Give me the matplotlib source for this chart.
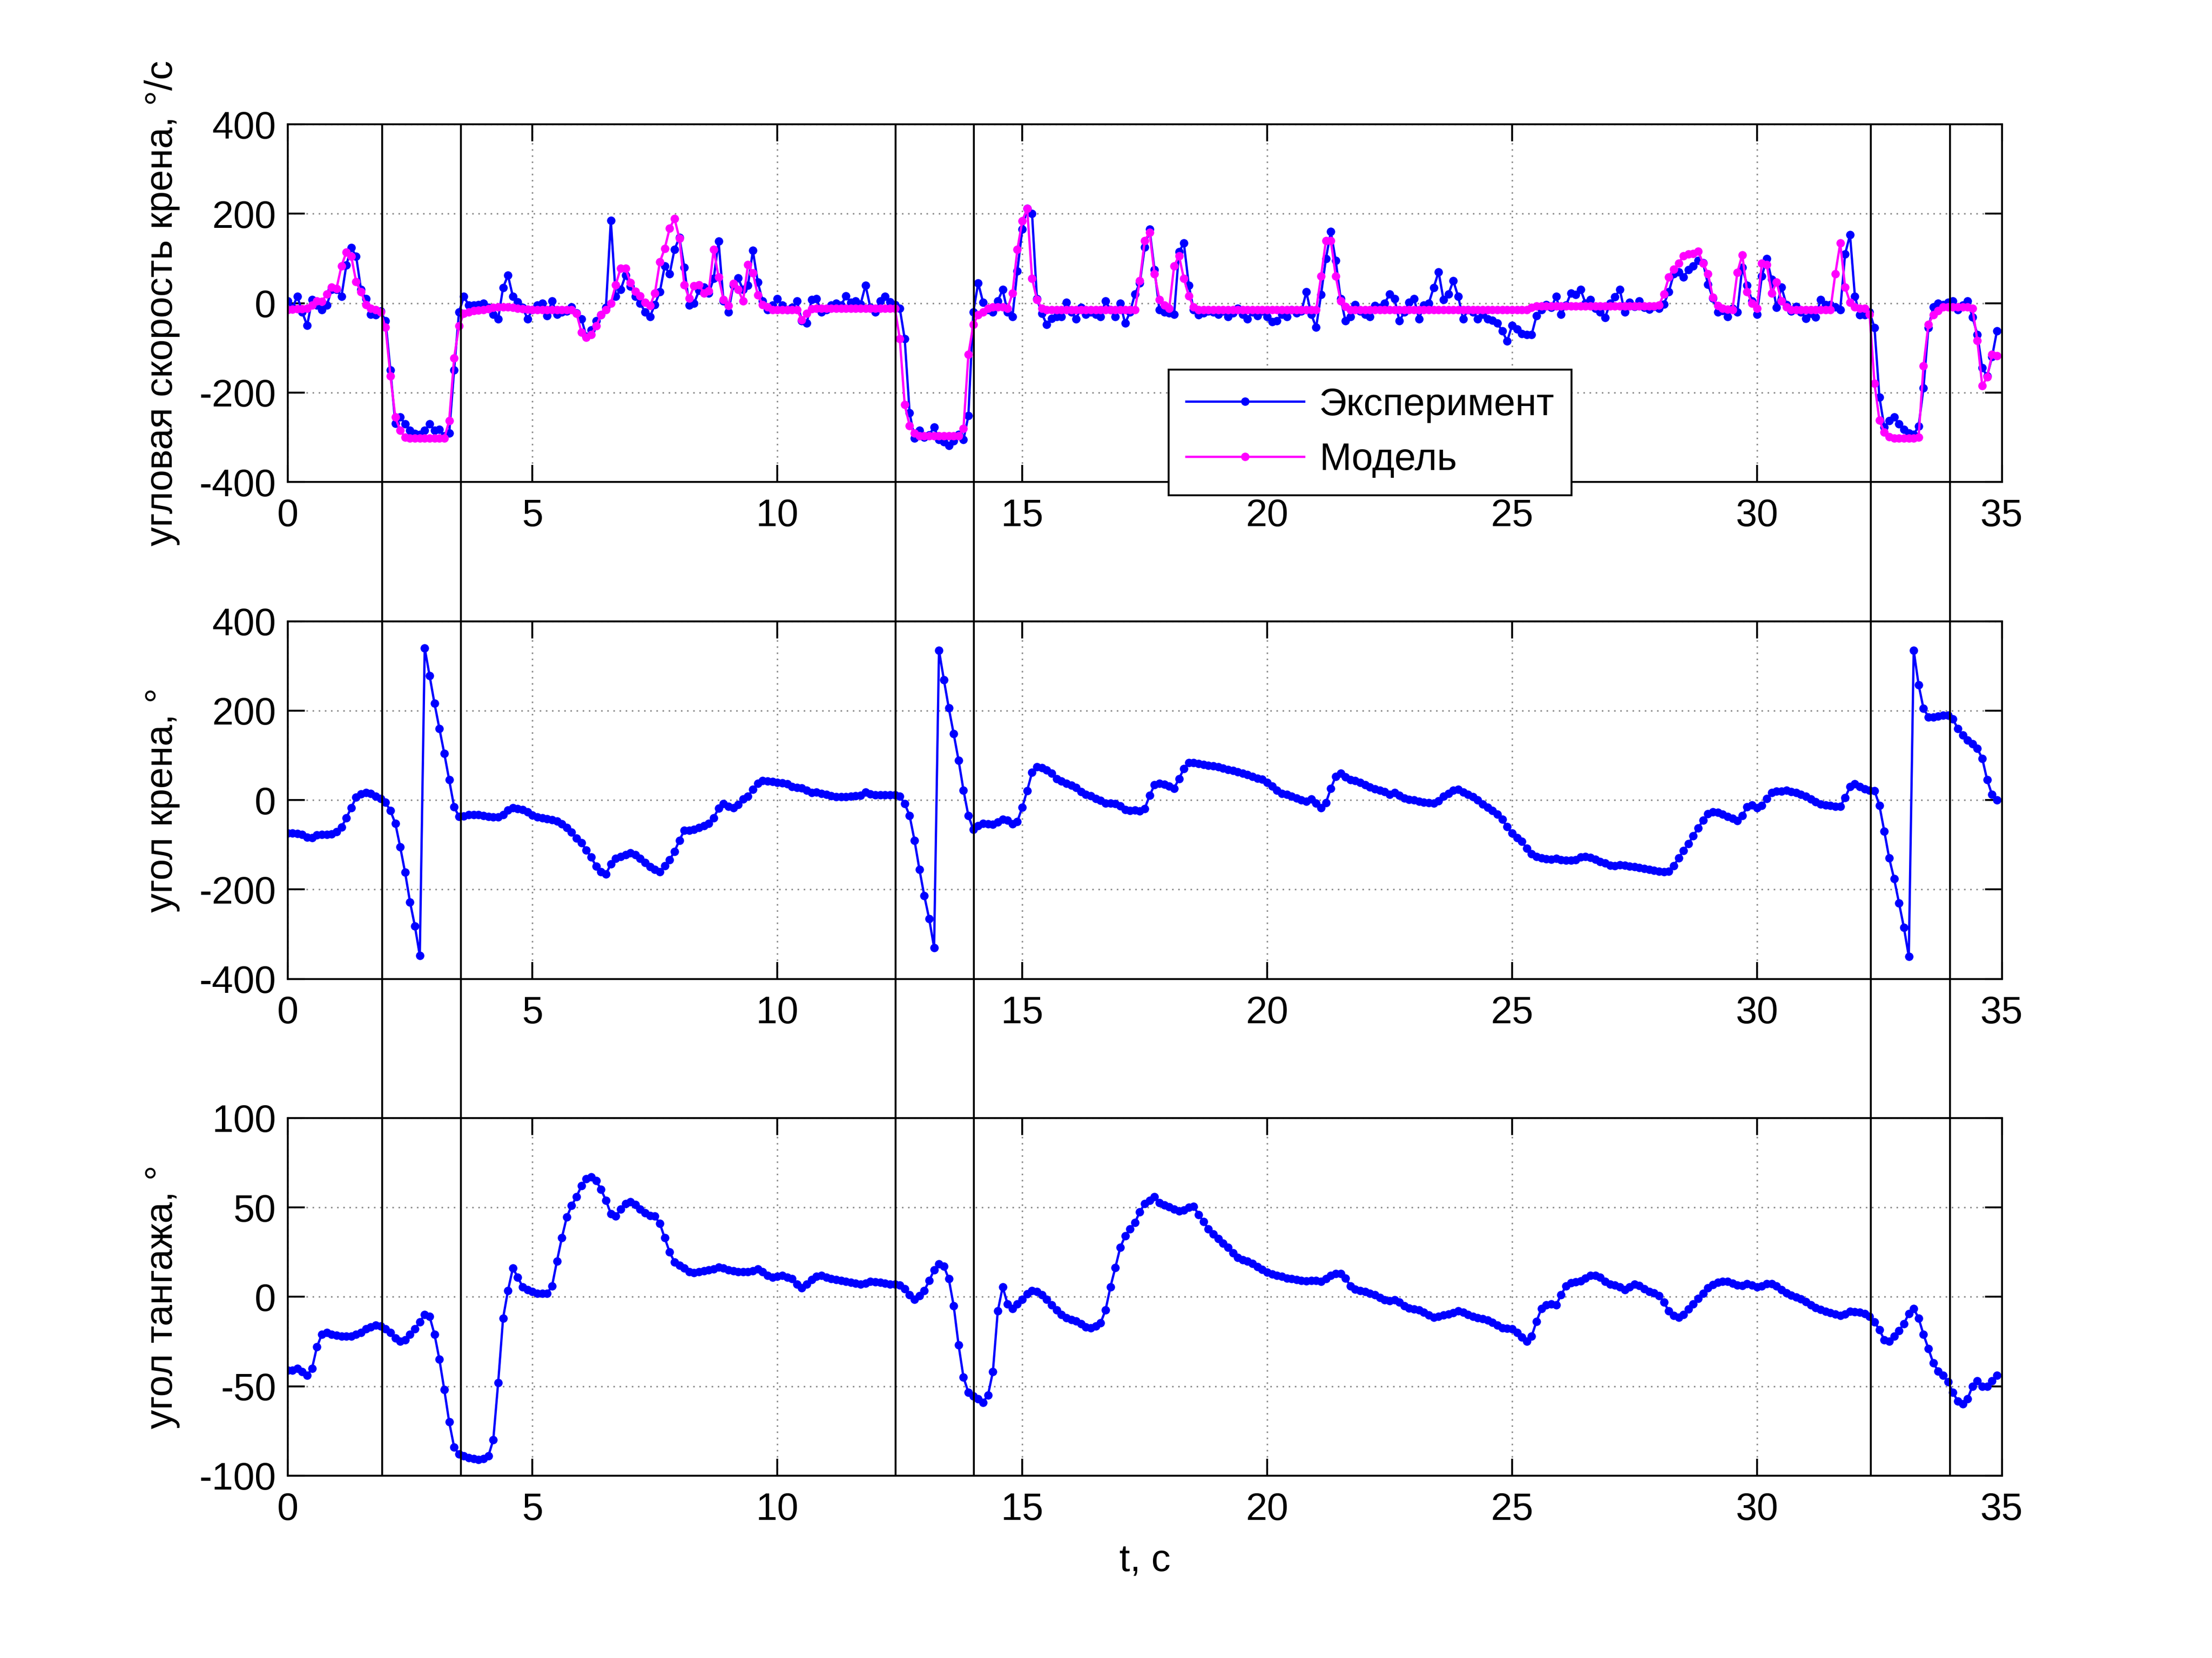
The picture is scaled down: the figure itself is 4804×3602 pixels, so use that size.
import numpy as np
import matplotlib
matplotlib.use('Agg')
import matplotlib.pyplot as plt

plt.rcParams['font.family'] = ['Liberation Sans', 'DejaVu Sans']
plt.rcParams['font.size'] = 10
plt.rcParams['axes.unicode_minus'] = False

####### DATA #######
dt = 0.1  # s, one row = 1 s

# roll rate, experiment, deg/s
p_exp = [
    5, -10, 15, -20, -50, 8, -5, -15, -5, 30,
    30, 15, 85, 124, 105, 30, 10, -25, -26, -18,
    -40, -150, -269, -255, -270, -285, -292, -294, -285, -270,
    -285, -283, -297, -291, -150, -20, 15, -5, -5, -3,
    0, -10, -25, -35, 35, 62, 15, 3, -10, -35,
    -15, -5, 0, -28, 5, -25, -20, -18, -9, -22,
    -35, -75, -60, -40, -26, -10, 185, 15, 30, 62,
    38, 15, 0, -20, -30, -3, 25, 83, 65, 120,
    147, 80, -5, 0, 28, 36, 22, 55, 139, 5,
    -20, 40, 56, 30, 40, 118, 47, 5, -15, -5,
    10, -5, -15, -10, 5, -40, -45, 8, 10, -20,
    -15, -5, 0, -5, 16, 2, 5, -2, 40, -10,
    -20, 5, 15, 3, -3, -12, -80, -245, -302, -285,
    -300, -295, -277, -305, -310, -319, -308, -294, -305, -252,
    -20, 45, 2, -15, -20, 5, 30, -20, -30, 72,
    165, 212, 200, 10, -23, -48, -34, -30, -30, 2,
    -20, -35, -10, -25, -20, -25, -30, 5, -15, -30,
    0, -45, -20, 20, 45, 125, 165, 75, -15, -20,
    -22, -25, 115, 134, 40, -15, -26, -22, -18, -20,
    -25, -18, -30, -22, -12, -25, -35, -20, -28, -18,
    -30, -42, -40, -25, -30, -15, -22, -18, 25, -25,
    -54, 19, 100, 160, 95, 10, -40, -30, -3, -18,
    -25, -30, -6, -10, 0, 20, 10, -40, -20, 2,
    10, -35, -5, 0, 35, 70, 8, 20, 50, 15,
    -35, -15, -20, -35, -25, -35, -38, -45, -62, -85,
    -50, -58, -68, -70, -70, -28, -15, -3, -10, 15,
    -25, -5, 22, 19, 30, 0, 8, -12, -20, -32,
    0, 14, 30, -20, 2, -8, 5, -10, -14, -8,
    -12, -2, 25, 65, 70, 58, 75, 83, 95, 90,
    42, 11, -20, -17, -30, -12, -20, 80, 40, 5,
    -25, 60, 100, 53, -10, 36, -3, -18, -8, -20,
    -34, -23, -31, 8, -3, -3, -9, -15, 110, 153,
    15, -26, -26, -20, -55, -210, -277, -263, -255, -270,
    -283, -291, -294, -275, -190, -55, -9, 0, -3, 2,
    5, -15, -5, 5, -31, -70, -145, -163, -120, -62,
]

# roll rate, model, deg/s
p_mod = [
    -15, -14, -13, -13, -12, -5, 5, 4, 20, 36,
    33, 83, 114, 105, 48, 25, -3, -12, -15, -20,
    -54, -163, -255, -285, -300, -302, -302, -302, -302, -302,
    -302, -302, -302, -263, -123, -51, -23, -20, -17, -16,
    -15, -13, -10, -9, -9, -9, -10, -12, -13, -14,
    -15, -15, -15, -15, -15, -15, -15, -15, -15, -23,
    -65, -77, -70, -51, -26, -15, 0, 41, 78, 78,
    46, 26, 16, 2, -6, 22, 92, 122, 167, 189,
    145, 41, 11, 39, 41, 22, 27, 120, 58, 8,
    -6, 44, 30, 5, 86, 68, 18, -3, -9, -15,
    -15, -15, -15, -15, -15, -37, -23, -13, -12, -12,
    -12, -12, -12, -12, -12, -12, -12, -12, -12, -12,
    -12, -12, -12, -12, -12, -80, -227, -274, -291, -297,
    -297, -297, -297, -297, -297, -297, -297, -297, -280, -115,
    -48, -26, -20, -12, -9, -9, -9, -12, 22, 120,
    184, 212, 55, 8, -12, -15, -15, -15, -15, -15,
    -15, -15, -15, -15, -15, -15, -15, -15, -15, -15,
    -15, -15, -15, -15, 50, 140, 158, 65, 8, -4,
    -12, 83, 106, 55, 16, -9, -15, -15, -15, -15,
    -15, -15, -15, -15, -15, -15, -15, -15, -15, -15,
    -15, -15, -15, -15, -15, -15, -15, -15, -15, -15,
    -15, 60, 140, 140, 60, 5, -8, -15, -15, -15,
    -15, -15, -15, -15, -15, -15, -15, -15, -15, -15,
    -15, -15, -15, -15, -15, -15, -15, -15, -15, -15,
    -15, -15, -15, -15, -15, -15, -15, -15, -15, -15,
    -15, -15, -15, -15, -10, -7, -7, -7, -7, -7,
    -7, -7, -7, -7, -7, -7, -7, -7, -7, -7,
    -7, -7, -7, -7, -7, -7, -7, -7, -7, -7,
    -4, 20, 58, 76, 89, 106, 110, 111, 116, 89,
    66, 13, -6, -12, -14, -15, 69, 108, 25, 0,
    -12, 89, 86, 22, 47, 5, -9, -15, -15, -15,
    -15, -15, -15, -15, -15, -15, 66, 134, 36, 2,
    -9, -12, -12, -25, -180, -262, -289, -299, -302, -302,
    -302, -302, -302, -300, -140, -48, -26, -17, -9, -9,
    -9, -9, -9, -9, -12, -84, -185, -165, -115, -118,
]

# roll angle, deg
phi = [
    -74, -74, -75, -77, -83, -84, -78, -77, -77, -76,
    -71, -61, -40, -17, 6, 14, 16.5, 15, 8, 3,
    -5, -24, -52, -105, -162, -228, -282, -348, 340, 278,
    216, 160, 104, 45, -15, -37, -36, -33, -33, -33,
    -35, -37, -38, -38, -33, -22, -17, -19, -21, -27,
    -34, -38, -40, -42, -44, -47, -53, -62, -72, -85,
    -96, -112, -128, -148, -160, -166, -143, -131, -127, -122,
    -118, -122, -131, -140, -149, -155, -160, -147, -134, -115,
    -90, -68, -68, -66, -62, -57, -52, -40, -18, -8,
    -14, -17, -10, 2, 8, 24, 37, 43, 42, 41,
    39, 38, 36, 30, 28, 27, 22, 17, 18, 15,
    12, 9, 7, 7, 7, 8, 9, 10, 18, 14,
    11, 11, 11, 11, 11, 8, -8, -35, -90, -155,
    -214, -266, -330, 335, 269, 206, 148, 89, 22, -35,
    -66, -57, -52, -53, -54, -49, -43, -45, -53, -48,
    -16, 21, 62, 74, 72, 67, 60, 48, 42, 37,
    33, 28, 19, 12, 9, 3, -1, -7, -7, -8,
    -13, -21, -24, -22, -25, -19, 10, 34, 37, 35,
    31, 26, 48, 70, 84, 84, 81, 79, 77, 76,
    74, 71, 68, 66, 63, 60, 57, 53, 49, 46,
    39, 31, 22, 15, 12, 8, 4, 0, -3, 2,
    -7, -17, -6, 26, 53, 60, 52, 45, 43, 39,
    34, 29, 25, 22, 19, 13, 17, 10, 4, 1,
    0, -3, -5, -6, -7, -2, 8, 15, 22, 24,
    18, 13, 7, 0, -9, -16, -24, -32, -43, -60,
    -74, -84, -93, -108, -120, -127, -130, -132, -133, -131,
    -134, -135, -135, -134, -128, -126, -129, -133, -138, -141,
    -146, -147, -145, -146, -148, -149, -151, -153, -155, -157,
    -159, -160, -159, -147, -130, -113, -98, -80, -63, -45,
    -31, -27, -28, -32, -37, -41, -46, -35, -15, -11,
    -17, -12, 3, 17, 20, 20, 22, 19, 17, 13,
    8, 2, -4, -9, -11, -12, -14, -14, 5, 30,
    36, 30, 25, 22, 21, -12, -70, -130, -176, -230,
    -285, -350, 335, 258, 205, 186, 186, 188, 190, 190,
    181, 160, 145, 134, 126, 115, 93, 45, 12, 0,
]

# pitch angle, deg
theta = [
    -41, -41, -40, -42, -44, -40, -28, -21, -20, -21,
    -21.5, -22, -22, -22, -21, -20, -18, -17, -16, -16.5,
    -18, -20, -23, -25, -24, -21, -18, -14, -10, -11,
    -21, -35, -52, -70, -84, -88, -89, -90, -90.5, -91,
    -90.5, -89, -80, -48, -12, 3.5, 16, 11, 5.5, 4,
    3, 2, 2, 2, 6, 20, 33, 44.5, 51, 56,
    62, 66, 67, 65, 60, 54, 46.5, 45, 49, 52,
    53, 51.5, 49, 47, 45.5, 45, 41, 33, 25, 19.5,
    17.5, 16, 14, 13.5, 14, 14.5, 15, 15.5, 16.5, 16,
    15, 14.5, 14, 14, 14, 14.5, 15.5, 14, 12, 11,
    11.5, 12, 11, 10, 7, 5, 7, 9.5, 11.5, 12,
    11, 10, 9.5, 9, 8.5, 8, 7.5, 7, 7.5, 8.5,
    8.4, 8, 7.5, 7, 7, 6.5, 4.5, 1, -1.4, 0.5,
    3.5, 9, 15, 18.4, 17, 10, -5, -27, -45, -53.5,
    -55.6, -57, -59, -55, -42, -8, 5.5, -4, -6.7, -4,
    -1.5, 1.5, 3.3, 3, 1, -1.5, -4.6, -7.5, -10, -11.8,
    -12.7, -13.6, -15, -16.8, -17.4, -16.5, -14.5, -7.5, 5.5, 16.3,
    27.5, 34, 38, 41.5, 47.5, 52, 54, 56, 52.6, 51.3,
    50.3, 49, 48, 48.5, 50, 50.5, 46, 42, 38, 35,
    32.5, 30, 27.5, 24.5, 22, 20.8, 19.8, 18.5, 16.8, 15.3,
    13.8, 12.6, 11.9, 11.3, 10.5, 10, 9.6, 9.2, 8.8, 9.2,
    9, 8.7, 10, 12, 13, 13, 10.5, 6, 4.2, 3.3,
    2.8, 2, 1, -0.5, -1.8, -2.2, -1.8, -3, -5, -6.4,
    -7, -7.5, -8.8, -10.3, -11.5, -11, -10.2, -9.8, -9, -7.8,
    -8.6, -10, -11, -11.8, -12.4, -13, -14.4, -15.8, -17.3, -17.8,
    -18, -20, -22.5, -25, -22, -13.7, -6.5, -4.5, -4, -4.5,
    1, 6, 7.8, 8.3, 8.8, 10.5, 12, 12, 10.8, 8.5,
    7, 6.6, 5.5, 4, 5.5, 7, 6.2, 4.5, 3, 2.2,
    0.5, -3, -8, -10.5, -11.6, -10, -7, -4, -1, 2,
    5, 6.8, 8, 8.5, 8.6, 7.6, 6.4, 6.2, 7.2, 6.5,
    5.5, 6, 7.2, 7.3, 6, 4, 2.2, 0.8, -0.3, -1.3,
    -2.8, -4.5, -6, -7.2, -8.2, -9, -9.8, -10.6, -9.7, -8.1,
    -8.5, -8.7, -9.5, -11, -14, -18.5, -24, -25, -22, -19,
    -15, -9.5, -6.5, -12, -21, -29, -37, -41.5, -44, -47.5,
    -53.5, -58.3, -60, -57, -50, -47, -50, -50, -47, -44,
]

t = np.arange(len(p_exp)) * dt

# moments marked with vertical lines, s
t_marks = [1.93, 3.54, 12.41, 14.01, 32.32, 33.94]

x_ticks = [0, 5, 10, 15, 20, 25, 30, 35]
angle_ticks = [-400, -200, 0, 200, 400]
pitch_ticks = [-100, -50, 0, 50, 100]

y_labels = ['угловая скорость крена, °/с', 'угол крена, °', 'угол тангажа, °']
leg_labels = ['Эксперимент', 'Модель']
####### END DATA #######


####### FIGURE #######
fig = plt.figure(figsize=(4804 / 600, 3602 / 600), dpi=600)
pos = [[0.13, 0.7093, 0.775, 0.2157],
       [0.13, 0.4096, 0.775, 0.2157],
       [0.13, 0.11, 0.775, 0.2157]]
axes = [fig.add_axes(p) for p in pos]


def style(ax, yticks):
    ax.set_xlim(x_ticks[0], x_ticks[-1])
    ax.set_ylim(yticks[0], yticks[-1])
    ax.set_xticks(x_ticks)
    ax.set_yticks(yticks)
    ax.tick_params(direction='in', top=True, right=True, length=4.4,
                   width=0.5, labelsize=10)
    ax.tick_params(axis='x', pad=4.2)
    ax.tick_params(axis='y', pad=3)
    ax.grid(True, linestyle=(0, (1, 3)), linewidth=0.4, color='0.55')
    for s in ax.spines.values():
        s.set_linewidth(0.5)


style(axes[0], angle_ticks)
style(axes[1], angle_ticks)
style(axes[2], pitch_ticks)

line_kw = dict(linestyle='-', marker='o', linewidth=0.6, markersize=2.2,
               markeredgewidth=0)

axes[0].plot(t, p_exp, color='#0000ff', label=leg_labels[0], **line_kw)
axes[0].plot(t, p_mod, color='#ff00ff', label=leg_labels[1], **line_kw)
axes[1].plot(t, phi, color='#0000ff', **line_kw)
axes[2].plot(t, theta, color='#0000ff', **line_kw)

leg = axes[0].legend(loc='upper left', bbox_to_anchor=(0.514, 0.314),
                     borderaxespad=0, fancybox=False, edgecolor='k',
                     framealpha=1, handlelength=3.07, handletextpad=0.4,
                     borderpad=0.45, labelspacing=0.5, numpoints=1,
                     fontsize=10)
leg.get_frame().set_linewidth(0.5)

for ax, lab in zip(axes, y_labels):
    ax.set_ylabel(lab, labelpad=5)
axes[2].set_xlabel('t, с', labelpad=4)
fig.align_ylabels(axes)

# vertical marker lines across all three plots
ov = fig.add_axes([0.13, 0.11, 0.775, 0.815])
ov.set_xlim(x_ticks[0], x_ticks[-1])
ov.axis('off')
for tm in t_marks:
    ov.axvline(tm, color='k', linewidth=0.5)

fig.savefig('out.png', dpi=600)
